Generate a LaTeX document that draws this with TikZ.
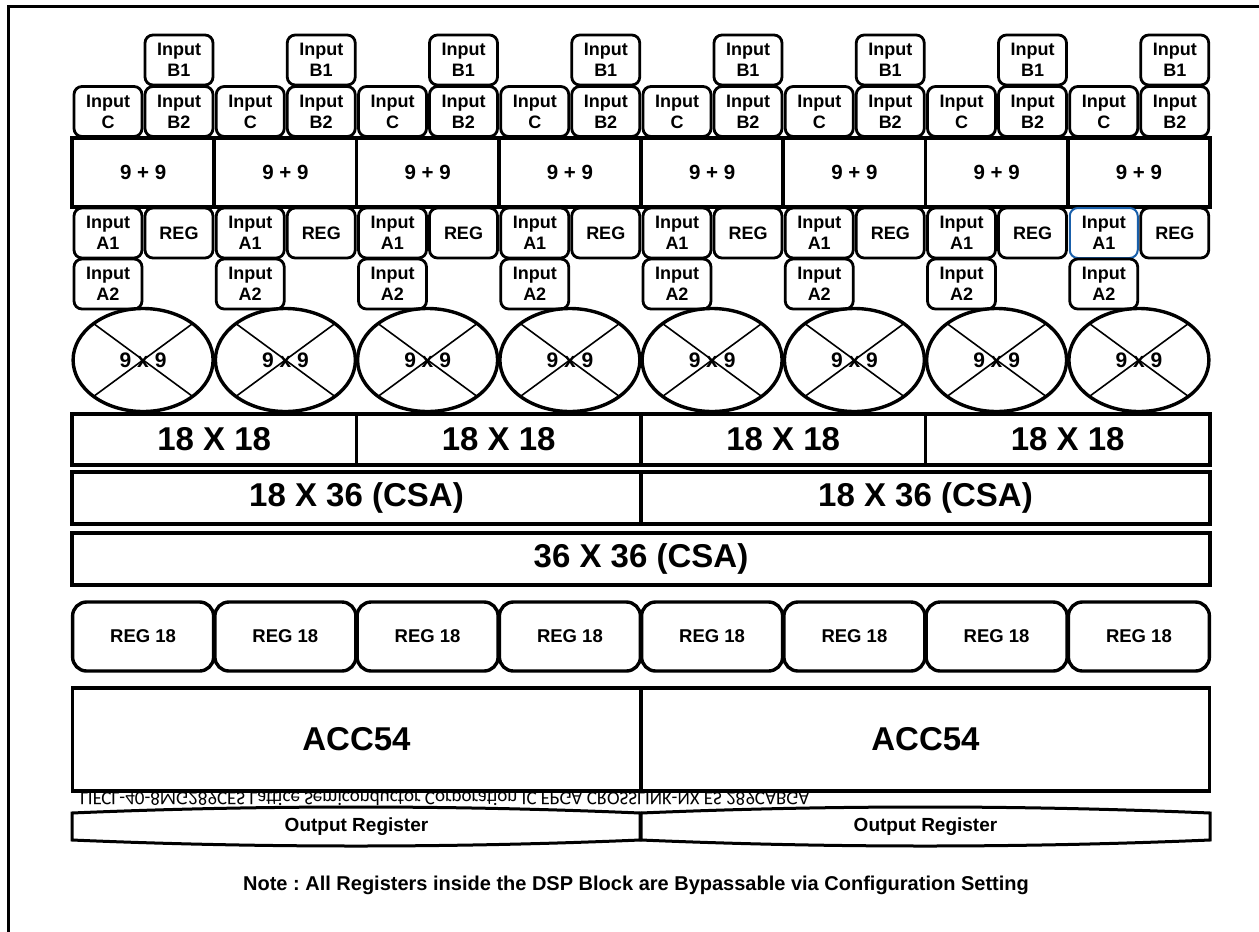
\documentclass[tikz,border=0pt]{standalone}
\usepackage{fontspec}
\setmainfont{Liberation Sans}
\newfontfamily\markfont{Carlito}
\usepackage{graphicx}
\usetikzlibrary{shapes.geometric}
\definecolor{pickblue}{RGB}{25,95,170}
\frenchspacing

\begin{document}
\begin{tikzpicture}[x=1pt, y=-1pt,
  every node/.style={outer sep=0pt, inner sep=0pt, align=center, font=\bfseries\fontsize{18}{21}\selectfont},
  inbox/.style={draw, line width=2.8pt, rounded corners=8pt, minimum width=68pt, minimum height=50pt},
  addbox/.style={draw, line width=3.8pt, minimum width=142.25pt, minimum height=69pt, font=\bfseries\fontsize{20.5}{22}\selectfont},
  mult/.style={ellipse, draw, line width=3.4pt, minimum width=140pt, minimum height=103pt, font=\bfseries\fontsize{21}{24}\selectfont,
    path picture={\draw[line width=1.6pt] (path picture bounding box.north west) -- (path picture bounding box.south east)
      (path picture bounding box.north east) -- (path picture bounding box.south west);}},
  partbox/.style={draw, line width=3.4pt, minimum height=51pt, font=\bfseries\fontsize{33}{36}\selectfont},
  regbox/.style={draw, line width=3.4pt, rounded corners=14pt, minimum width=141pt, minimum height=69pt, font=\bfseries\fontsize{18.5}{22}\selectfont},
  accbox/.style={draw, fill=white, line width=3.4pt, minimum width=568pt, minimum height=103pt, font=\bfseries\fontsize{33}{36}\selectfont}]
\useasboundingbox (0,0) rectangle (1259,932);
\draw[line width=3pt] (8,932) -- (8,6) -- (1259,6);

% input B1
\node[inbox] (b1-1) at (179,60) {Input\\B1};
\node[inbox] (b1-2) at (321.25,60) {Input\\B1};
\node[inbox] (b1-3) at (463.5,60) {Input\\B1};
\node[inbox] (b1-4) at (605.75,60) {Input\\B1};
\node[inbox] (b1-5) at (748,60) {Input\\B1};
\node[inbox] (b1-6) at (890.25,60) {Input\\B1};
\node[inbox] (b1-7) at (1032.5,60) {Input\\B1};
\node[inbox] (b1-8) at (1174.75,60) {Input\\B1};

% input C and B2
\node[inbox] (c-1) at (108,111.5) {Input\\C};
\node[inbox] (b2-1) at (179,111.5) {Input\\B2};
\node[inbox] (c-2) at (250.25,111.5) {Input\\C};
\node[inbox] (b2-2) at (321.25,111.5) {Input\\B2};
\node[inbox] (c-3) at (392.5,111.5) {Input\\C};
\node[inbox] (b2-3) at (463.5,111.5) {Input\\B2};
\node[inbox] (c-4) at (534.75,111.5) {Input\\C};
\node[inbox] (b2-4) at (605.75,111.5) {Input\\B2};
\node[inbox] (c-5) at (677,111.5) {Input\\C};
\node[inbox] (b2-5) at (748,111.5) {Input\\B2};
\node[inbox] (c-6) at (819.25,111.5) {Input\\C};
\node[inbox] (b2-6) at (890.25,111.5) {Input\\B2};
\node[inbox] (c-7) at (961.5,111.5) {Input\\C};
\node[inbox] (b2-7) at (1032.5,111.5) {Input\\B2};
\node[inbox] (c-8) at (1103.75,111.5) {Input\\C};
\node[inbox] (b2-8) at (1174.75,111.5) {Input\\B2};

% pre-adders
\node[addbox] (add-1) at (143.1,172.5) {9 + 9};
\node[addbox] (add-2) at (285.4,172.5) {9 + 9};
\node[addbox] (add-3) at (427.6,172.5) {9 + 9};
\node[addbox] (add-4) at (569.9,172.5) {9 + 9};
\node[addbox] (add-5) at (712.1,172.5) {9 + 9};
\node[addbox] (add-6) at (854.4,172.5) {9 + 9};
\node[addbox] (add-7) at (996.6,172.5) {9 + 9};
\node[addbox] (add-8) at (1138.9,172.5) {9 + 9};

% input A1 and REG
\node[inbox] (a1-1) at (108,233) {Input\\A1};
\node[inbox] (reg-1) at (179,233) {REG};
\node[inbox] (a1-2) at (250.25,233) {Input\\A1};
\node[inbox] (reg-2) at (321.25,233) {REG};
\node[inbox] (a1-3) at (392.5,233) {Input\\A1};
\node[inbox] (reg-3) at (463.5,233) {REG};
\node[inbox] (a1-4) at (534.75,233) {Input\\A1};
\node[inbox] (reg-4) at (605.75,233) {REG};
\node[inbox] (a1-5) at (677,233) {Input\\A1};
\node[inbox] (reg-5) at (748,233) {REG};
\node[inbox] (a1-6) at (819.25,233) {Input\\A1};
\node[inbox] (reg-6) at (890.25,233) {REG};
\node[inbox] (a1-7) at (961.5,233) {Input\\A1};
\node[inbox] (reg-7) at (1032.5,233) {REG};
\node[inbox, draw=pickblue, line width=2pt] (a1-8) at (1103.75,233) {Input\\A1};
\node[inbox] (reg-8) at (1174.75,233) {REG};

% input A2
\node[inbox] (a2-1) at (108,284) {Input\\A2};
\node[inbox] (a2-2) at (250.25,284) {Input\\A2};
\node[inbox] (a2-3) at (392.5,284) {Input\\A2};
\node[inbox] (a2-4) at (534.75,284) {Input\\A2};
\node[inbox] (a2-5) at (677,284) {Input\\A2};
\node[inbox] (a2-6) at (819.25,284) {Input\\A2};
\node[inbox] (a2-7) at (961.5,284) {Input\\A2};
\node[inbox] (a2-8) at (1103.75,284) {Input\\A2};

% multipliers
\node[mult] (mul-1) at (143.1,360) {9 x 9};
\node[mult] (mul-2) at (285.4,360) {9 x 9};
\node[mult] (mul-3) at (427.6,360) {9 x 9};
\node[mult] (mul-4) at (569.9,360) {9 x 9};
\node[mult] (mul-5) at (712.1,360) {9 x 9};
\node[mult] (mul-6) at (854.4,360) {9 x 9};
\node[mult] (mul-7) at (996.6,360) {9 x 9};
\node[mult] (mul-8) at (1138.9,360) {9 x 9};

% adder tree
\node[partbox, minimum width=284.5pt] (p-1) at (214.25,439.5) {18 X 18};
\node[partbox, minimum width=284.5pt] (p-2) at (498.75,439.5) {18 X 18};
\node[partbox, minimum width=284.5pt] (p-3) at (783.25,439.5) {18 X 18};
\node[partbox, minimum width=284.5pt] (p-4) at (1067.75,439.5) {18 X 18};
\node[partbox, minimum width=569pt, minimum height=52pt] (csa-1) at (356.5,498) {18 X 36 (CSA)};
\node[partbox, minimum width=569pt, minimum height=52pt] (csa-2) at (925.5,498) {18 X 36 (CSA)};
\node[partbox, minimum width=1138pt, minimum height=52pt] (csa36) at (641,559) {36 X 36 (CSA)};

% registers
\node[regbox] (r18-1) at (143.1,636.5) {REG 18};
\node[regbox] (r18-2) at (285.4,636.5) {REG 18};
\node[regbox] (r18-3) at (427.6,636.5) {REG 18};
\node[regbox] (r18-4) at (569.9,636.5) {REG 18};
\node[regbox] (r18-5) at (712.1,636.5) {REG 18};
\node[regbox] (r18-6) at (854.4,636.5) {REG 18};
\node[regbox] (r18-7) at (996.6,636.5) {REG 18};
\node[regbox] (r18-8) at (1138.9,636.5) {REG 18};

% accumulators, with the stray part mark under them
\node[anchor=north west, font=\markfont\fontsize{19}{21}\selectfont] (mark) at (80,789)
  {\scalebox{1}[-1]{LIFCL-40-8MG289CES Lattice Semiconductor Corporation IC FPGA CROSSLINK-NX ES 289CABGA}};
\node[accbox] (acc-1) at (356.5,739.5) {ACC54};
\node[accbox] (acc-2) at (925.5,739.5) {ACC54};

% output registers
\node[font=\bfseries\fontsize{19}{21}\selectfont] (out-1) at (356.5,826.5) {Output Register};
\node[font=\bfseries\fontsize{19}{21}\selectfont] (out-2) at (925.5,826.5) {Output Register};
\draw[line width=3pt] (72,813) -- (72,840) .. controls (260,848) and (452,848) .. (640,840) -- (640,813) .. controls (452,805) and (260,805) .. (72,813) -- cycle;
\draw[line width=3pt] (641,813) -- (641,840) .. controls (830,848) and (1020,848) .. (1210,840) -- (1210,813) .. controls (1020,805) and (830,805) .. (641,813) -- cycle;

\node[font=\bfseries\fontsize{20}{22}\selectfont] (note) at (636,885) {Note : All Registers inside the DSP Block are Bypassable via Configuration Setting};
\end{tikzpicture}
\end{document}
